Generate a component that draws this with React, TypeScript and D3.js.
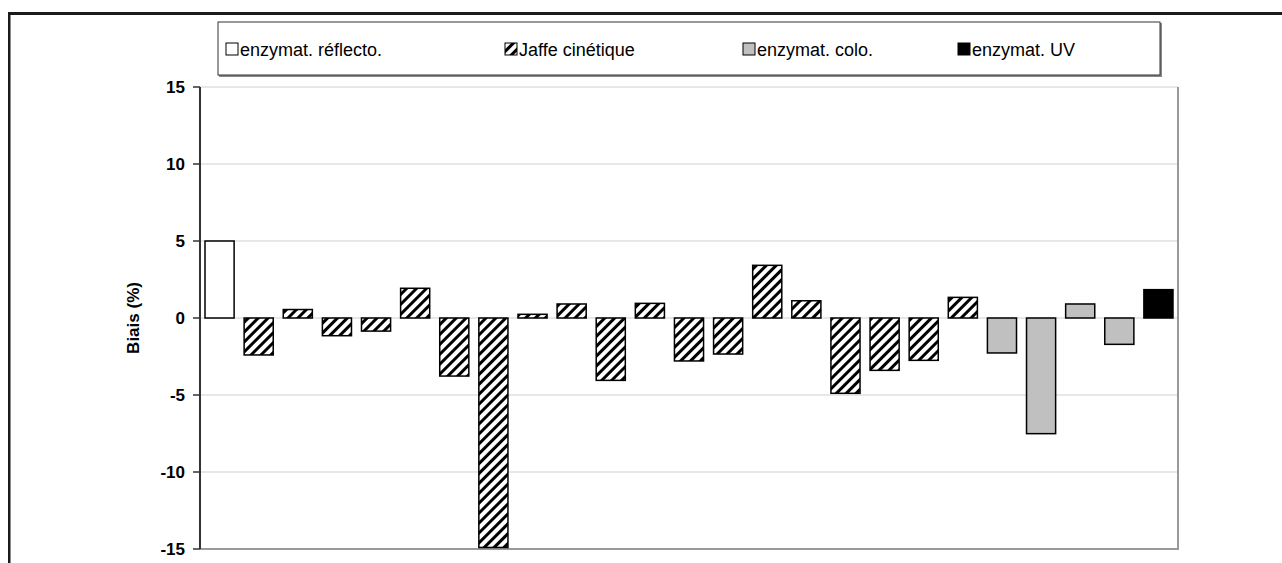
import React from "react";
import * as d3 from "d3";

const methods = ["enzymat. réflecto.", "Jaffe cinétique", "enzymat. colo.", "enzymat. UV"];
const labs = d3.range(1, 26).map((i) => `L${i}`);
const barMethod = [0, 1, 1, 1, 1, 1, 1, 1, 1, 1, 1, 1, 1, 1, 1, 1, 1, 1, 1, 1, 2, 2, 2, 2, 3];
const biasValues = [
  5.0, -2.4, 0.55, -1.15, -0.85, 1.93, -3.77, -14.9, 0.24, 0.91, -4.05, 0.95, -2.79,
  -2.34, 3.42, 1.12, -4.89, -3.4, -2.75, 1.34, -2.27, -7.51, 0.91, -1.71, 1.84,
];
const yTicks = [15, 10, 5, 0, -5, -10, -15];
const yLabel = "Biais (%)";

const W = 1282;
const H = 563;
const plot = { left: 200, right: 1178, top: 87, bottom: 549 };
const fills = ["#ffffff", "url(#hatch)", "#c0c0c0", "#000000"];
const legendX = [226, 505, 743, 958];

export default function App() {
  const x = d3
    .scaleBand<string>()
    .domain(labs)
    .range([plot.left, plot.right])
    .paddingInner(0.256)
    .paddingOuter(0.128);
  const y = d3.scaleLinear().domain([-15, 15]).range([plot.bottom, plot.top]);
  const font = "Arial, 'Liberation Sans', sans-serif";

  return (
    <svg
      width={W}
      height={H}
      style={{ position: "absolute", left: 0, top: 0, background: "#fff" }}
      fontFamily={font}
    >
      <defs>
        <pattern
          id="hatch"
          patternUnits="userSpaceOnUse"
          width={7}
          height={7}
          patternTransform="rotate(45)"
        >
          <rect width={7} height={7} fill="#fff" />
          <rect x={0} y={0} width={3} height={7} fill="#000" />
        </pattern>
      </defs>
      <rect width={W} height={H} fill="#fff" />
      {/* outer frame */}
      <rect x={8} y={12} width={W - 8} height={3} fill="#1a1a1a" />
      <rect x={8} y={12} width={2.5} height={H - 12} fill="#1a1a1a" />

      {/* gridlines */}
      {yTicks.map((t) => (
        <line
          key={t}
          x1={plot.left}
          x2={plot.right}
          y1={y(t)}
          y2={y(t)}
          stroke={t === -15 ? "#999" : "#cfcfcf"}
          strokeWidth={t === -15 ? 2 : 1}
        />
      ))}
      <line x1={plot.right} x2={plot.right} y1={plot.top} y2={plot.bottom + 1} stroke="#999" strokeWidth={2} />

      {/* bars */}
      {biasValues.map((v, i) => {
        const y0 = y(0);
        const y1 = y(v);
        return (
          <rect
            key={i}
            x={x(labs[i])}
            y={Math.min(y0, y1)}
            width={x.bandwidth()}
            height={Math.abs(y1 - y0)}
            fill={fills[barMethod[i]]}
            stroke="#000"
            strokeWidth={1.5}
          />
        );
      })}

      {/* y axis */}
      <line x1={plot.left} x2={plot.left} y1={plot.top} y2={plot.bottom} stroke="#333" strokeWidth={2} />
      {yTicks.map((t) => (
        <g key={t}>
          <line x1={plot.left - 7} x2={plot.left} y1={y(t)} y2={y(t)} stroke="#333" strokeWidth={1.5} />
          <text
            x={plot.left - 15}
            y={y(t)}
            dy="0.36em"
            textAnchor="end"
            fontSize={17}
            fontWeight="bold"
            fill="#000"
          >
            {t}
          </text>
        </g>
      ))}
      <text
        transform={`translate(139,${(plot.top + plot.bottom) / 2}) rotate(-90)`}
        textAnchor="middle"
        fontSize={17}
        fontWeight="bold"
        fill="#000"
      >
        {yLabel}
      </text>

      {/* legend */}
      <rect x={219} y={23} width={943} height={54} fill="#888" />
      <rect x={218} y={22} width={942} height={53} fill="#fff" stroke="#333" strokeWidth={1} />
      {methods.map((m, i) => (
        <g key={m}>
          <rect
            x={legendX[i]}
            y={43}
            width={12}
            height={12}
            fill={fills[i]}
            stroke="#000"
            strokeWidth={1}
          />
          <text x={legendX[i] + 14} y={55.5} fontSize={18} fill="#000">
            {m}
          </text>
        </g>
      ))}
    </svg>
  );
}
